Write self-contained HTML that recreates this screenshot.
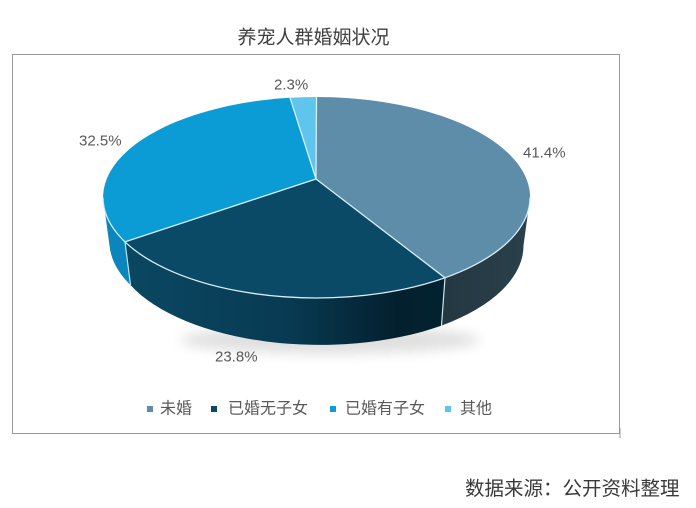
<!DOCTYPE html>
<html><head><meta charset="utf-8"><style>
html,body{margin:0;padding:0;background:#fff;}
svg{display:block;}
text{font-family:"Liberation Sans","Noto Sans CJK SC",sans-serif;}
</style></head><body>
<svg width="696" height="508" viewBox="0 0 696 508" xmlns="http://www.w3.org/2000/svg">
<defs>
<linearGradient id="gDark" x1="125" y1="0" x2="445" y2="0" gradientUnits="userSpaceOnUse">
<stop offset="0" stop-color="#0b4762"/>
<stop offset="0.5" stop-color="#083b53"/>
<stop offset="0.85" stop-color="#03202e"/>
<stop offset="1" stop-color="#03222f"/>
</linearGradient>
<linearGradient id="gSlate" x1="445" y1="0" x2="530" y2="0" gradientUnits="userSpaceOnUse">
<stop offset="0" stop-color="#243842"/>
<stop offset="1" stop-color="#2a404b"/>
</linearGradient>
<filter id="blur" x="-50%" y="-50%" width="200%" height="200%"><feGaussianBlur stdDeviation="6"/></filter>
</defs>
<rect width="696" height="508" fill="#fff"/>
<text x="313.5" y="38" font-size="19" fill="#404040" text-anchor="middle" dominant-baseline="central">养宠人群婚姻状况</text>
<rect x="12.5" y="54.5" width="607" height="379" fill="#fff" stroke="#9a9a9a" stroke-width="1"/>
<line x1="620" y1="428" x2="620" y2="438" stroke="#999" stroke-width="1"/>
<!-- shadow -->
<ellipse cx="330" cy="340" rx="150" ry="14" fill="#000" opacity="0.12" filter="url(#blur)"/>
<!-- sides -->
<!-- 有子女 side t 153.8..180 -->
<path d="M125,241.9 A213.5,100.5 0 0 1 103,197.5 L109.5,245.5 A207,100.5 0 0 0 130.8,285.4 Z" fill="#0b86bd"/>
<!-- 无子女 side t 53..153.8 -->
<path d="M445,277.8 A213.5,100.5 0 0 1 125,241.9 L130.8,285.4 A207,100.5 0 0 0 441.1,325.8 Z" fill="url(#gDark)"/>
<!-- 未婚 side t 0..53 -->
<path d="M530,197.5 A213.5,100.5 0 0 1 445,277.8 L441.1,325.8 A207,100.5 0 0 0 523.5,245.5 Z" fill="url(#gSlate)"/>
<line x1="445" y1="278" x2="441.5" y2="325.5" stroke="#cfe3ec" stroke-width="1.2"/>
<line x1="125" y1="242" x2="130.5" y2="285" stroke="#bfe3f3" stroke-width="1.2"/>
<!-- top faces -->
<path d="M316,179 L316.5,97 A213.5,100.5 0 0 1 445,277.8 Z" fill="#5e8da9"/>
<path d="M316,179 L445,277.8 A213.5,100.5 0 0 1 125,241.9 Z" fill="#0a4a66"/>
<path d="M316,179 L125,241.9 A213.5,100.5 0 0 1 290,97.8 Z" fill="#0b9bd5"/>
<path d="M316,179 L290,97.8 A213.5,100.5 0 0 1 316.5,97 Z" fill="#60c5ec"/>
<!-- edges -->
<g stroke="#d6eef8" stroke-width="1.3" fill="none">
<line x1="316" y1="179" x2="445" y2="277.8"/>
<line x1="316" y1="179" x2="125" y2="241.9"/>
<line x1="316" y1="179" x2="290" y2="97.8"/>
<line x1="316" y1="179" x2="316.5" y2="97"/>
<path d="M530,197.5 A213.5,100.5 0 0 1 103,197.5"/>
</g>
<!-- labels -->
<g font-size="15" fill="#595959" dominant-baseline="central">
<text x="274" y="85">2.3%</text>
<text x="79" y="141">32.5%</text>
<text x="523" y="153">41.4%</text>
<text x="215" y="357">23.8%</text>
</g>
<!-- legend -->
<rect x="147" y="406" width="6" height="6" fill="#5e8da9"/>
<rect x="211" y="406" width="6" height="6" fill="#0a4a66"/>
<rect x="330" y="406" width="6" height="6" fill="#0b9bd5"/>
<rect x="445" y="406" width="6" height="6" fill="#60c5ec"/>
<g font-size="16" fill="#595959" dominant-baseline="central">
<text x="160" y="409">未婚</text>
<text x="228" y="409">已婚无子女</text>
<text x="345" y="409">已婚有子女</text>
<text x="460" y="409">其他</text>
</g>
<text x="465" y="489" font-size="19.5" fill="#3a3a3a" dominant-baseline="central">数据来源：公开资料整理</text>
</svg>
</body></html>
